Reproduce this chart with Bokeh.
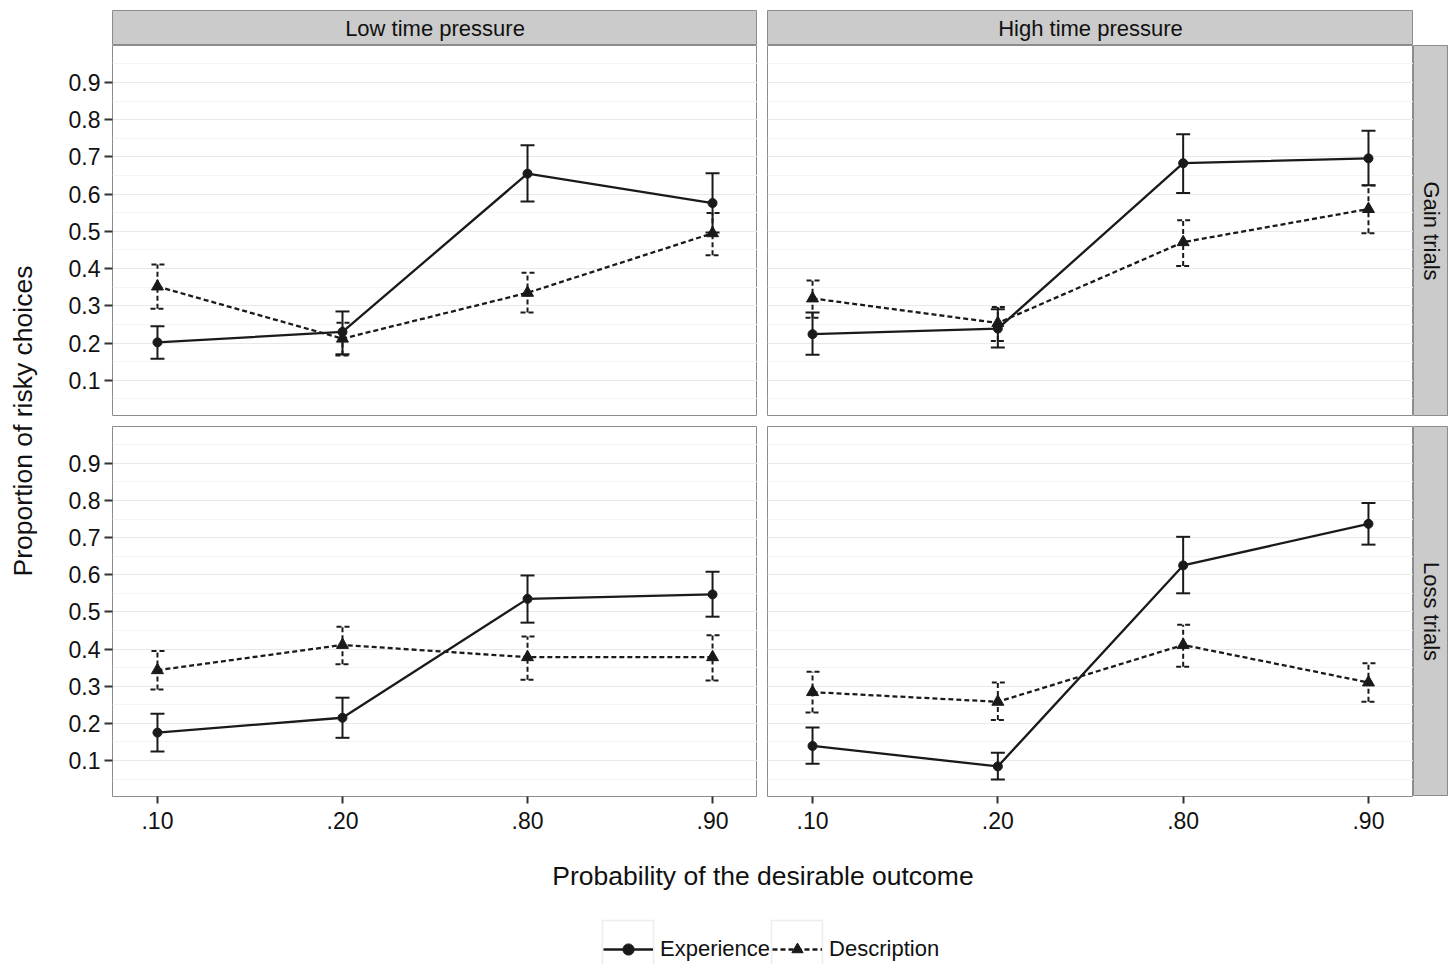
import math
from bokeh.plotting import figure
from bokeh.models import (Range1d, FixedTicker, Grid, Whisker, TeeHead, ColumnDataSource,
                          Label, Spacer, Legend, LegendItem, BoxAnnotation)
from bokeh.layouts import row, column
from bokeh.embed import file_html
from bokeh.resources import INLINE

# ---------------- data ----------------
probs = [".10", ".20", ".80", ".90"]
columns_lbl = ["Low time pressure", "High time pressure"]
rows_lbl = ["Gain trials", "Loss trials"]
series_lbl = ["Experience", "Description"]
y_ticks = [0.1, 0.2, 0.3, 0.4, 0.5, 0.6, 0.7, 0.8, 0.9]
y_minor = [0.05, 0.15, 0.25, 0.35, 0.45, 0.55, 0.65, 0.75, 0.85, 0.95]

low_gain_exp = [0.202, 0.230, 0.655, 0.576]
low_gain_exp_lo = [0.158, 0.170, 0.580, 0.497]
low_gain_exp_hi = [0.245, 0.285, 0.731, 0.656]
low_gain_desc = [0.352, 0.212, 0.335, 0.495]
low_gain_desc_lo = [0.292, 0.167, 0.282, 0.436]
low_gain_desc_hi = [0.411, 0.255, 0.389, 0.549]

high_gain_exp = [0.224, 0.239, 0.683, 0.696]
high_gain_exp_lo = [0.169, 0.188, 0.603, 0.624]
high_gain_exp_hi = [0.282, 0.291, 0.761, 0.770]
high_gain_desc = [0.320, 0.254, 0.471, 0.560]
high_gain_desc_lo = [0.268, 0.206, 0.407, 0.495]
high_gain_desc_hi = [0.368, 0.297, 0.530, 0.623]

low_loss_exp = [0.175, 0.215, 0.535, 0.547]
low_loss_exp_lo = [0.124, 0.161, 0.471, 0.487]
low_loss_exp_hi = [0.226, 0.269, 0.598, 0.608]
low_loss_desc = [0.343, 0.411, 0.378, 0.378]
low_loss_desc_lo = [0.291, 0.359, 0.317, 0.315]
low_loss_desc_hi = [0.395, 0.460, 0.434, 0.437]

high_loss_exp = [0.139, 0.084, 0.625, 0.737]
high_loss_exp_lo = [0.091, 0.049, 0.550, 0.681]
high_loss_exp_hi = [0.189, 0.121, 0.702, 0.793]
high_loss_desc = [0.284, 0.258, 0.411, 0.310]
high_loss_desc_lo = [0.229, 0.209, 0.352, 0.258]
high_loss_desc_hi = [0.339, 0.310, 0.465, 0.362]

# ---------------- style ----------------
FONT = "Liberation Sans"
INK = "#1a1a1a"
TXT = "#111111"
Y0, Y1 = 0.003, 0.999
X0, X1 = 0.757, 4.243
xs = [i + 1 for i in range(len(probs))]
BORDER = "#8c8c8c"
STRIP = "#cbcbcb"
PAD = 8
LW = 2.3
DASH = "5 3"


def panel(width, height, left_axis, bottom_axis, mb_left, mb_bottom,
          exp, exp_lo, exp_hi, desc, desc_lo, desc_hi):
    p = figure(width=width, height=height, x_range=Range1d(X0, X1), y_range=Range1d(Y0, Y1),
               output_backend="svg", toolbar_location=None,
               x_axis_location="below" if bottom_axis else None,
               y_axis_location="left" if left_axis else None,
               min_border_left=mb_left, min_border_right=0, min_border_top=0,
               min_border_bottom=mb_bottom)
    p.background_fill_color = "white"
    p.border_fill_color = "white"
    p.outline_line_color = BORDER
    p.outline_line_width = 1
    p.xgrid.visible = False
    p.ygrid.visible = False
    p.add_layout(Grid(dimension=1, ticker=FixedTicker(ticks=y_ticks, minor_ticks=y_minor),
                      grid_line_color="#e9e9e9", grid_line_width=1,
                      minor_grid_line_color="#f4f4f4", minor_grid_line_width=1))
    if left_axis:
        ax = p.yaxis[0]
        ax.ticker = FixedTicker(ticks=y_ticks)
        ax.major_label_overrides = {t: f"{t:.1f}" for t in y_ticks}
        ax.axis_line_color = None
        ax.major_tick_in = 0
        ax.major_tick_out = 8
        ax.major_tick_line_color = "#333333"
        ax.major_tick_line_width = 2
        ax.minor_tick_line_color = None
        ax.major_label_standoff = 4
        ax.major_label_text_font = FONT
        ax.major_label_text_font_size = "23px"
        ax.major_label_text_color = TXT
    if bottom_axis:
        ax = p.xaxis[0]
        ax.ticker = FixedTicker(ticks=xs)
        ax.major_label_overrides = {x: lab for x, lab in zip(xs, probs)}
        ax.axis_line_color = None
        ax.major_tick_in = 0
        ax.major_tick_out = 7
        ax.major_tick_line_color = "#333333"
        ax.major_tick_line_width = 2
        ax.minor_tick_line_color = None
        ax.major_label_standoff = 8
        ax.major_label_text_font = FONT
        ax.major_label_text_font_size = "23px"
        ax.major_label_text_color = TXT

    for vals, lo, hi, dash, marker, msize in (
            (exp, exp_lo, exp_hi, "solid", "circle", 9),
            (desc, desc_lo, desc_hi, DASH, "triangle", 12)):
        src = ColumnDataSource(dict(x=xs, y=vals, lo=lo, hi=hi))
        p.add_layout(Whisker(source=src, base="x", lower="lo", upper="hi", dimension="height",
                             line_color=INK, line_width=2, line_dash=dash, level="glyph",
                             lower_head=TeeHead(size=14, line_color=INK, line_width=2, line_dash=dash),
                             upper_head=TeeHead(size=14, line_color=INK, line_width=2, line_dash=dash)))
        p.line("x", "y", source=src, line_color=INK, line_width=LW, line_dash=dash)
        p.scatter("x", "y", source=src, marker=marker, size=msize, fill_color=INK, line_color=INK)
    return p


def strip(width, height, text, vertical=False):
    s = figure(width=width, height=height, x_range=Range1d(0, 1), y_range=Range1d(0, 1),
               output_backend="svg", toolbar_location=None, x_axis_location=None,
               y_axis_location=None, min_border=0)
    s.xgrid.visible = False
    s.ygrid.visible = False
    s.background_fill_color = STRIP
    s.border_fill_color = STRIP
    s.outline_line_color = BORDER
    s.add_layout(Label(x=0.5, y=0.5, text=text, text_align="center", text_baseline="middle",
                       angle=-math.pi / 2 if vertical else 0, text_font=FONT,
                       text_font_size="22px", text_color=TXT))
    return s


W_YLAB = 44
W_LEFT = 60
FW_L, FW_R = 645, 646
FH_T, FH_B = 371, 370
MB_B = 50
W_STRIP = 35

tl = panel(W_LEFT + FW_L, FH_T, True, False, W_LEFT, 0,
           low_gain_exp, low_gain_exp_lo, low_gain_exp_hi, low_gain_desc, low_gain_desc_lo, low_gain_desc_hi)
tr = panel(10 + FW_R, FH_T, False, False, 10, 0,
           high_gain_exp, high_gain_exp_lo, high_gain_exp_hi, high_gain_desc, high_gain_desc_lo, high_gain_desc_hi)
bl = panel(W_LEFT + FW_L, FH_B + MB_B, True, True, W_LEFT, MB_B,
           low_loss_exp, low_loss_exp_lo, low_loss_exp_hi, low_loss_desc, low_loss_desc_lo, low_loss_desc_hi)
br = panel(10 + FW_R, FH_B + MB_B, False, True, 10, MB_B,
           high_loss_exp, high_loss_exp_lo, high_loss_exp_hi, high_loss_desc, high_loss_desc_lo, high_loss_desc_hi)

st_l = strip(FW_L, 35, columns_lbl[0])
st_r = strip(FW_R, 35, columns_lbl[1])
rs_t = strip(W_STRIP, FH_T, rows_lbl[0], vertical=True)
rs_b = strip(W_STRIP, FH_B, rows_lbl[1], vertical=True)

inner = column(
    row(Spacer(width=W_LEFT, height=35), st_l, Spacer(width=10, height=35), st_r),
    row(tl, tr, rs_t),
    Spacer(width=10, height=10),
    row(bl, br, column(rs_b, Spacer(width=W_STRIP, height=MB_B))),
)
H_IN = 35 + FH_T + 10 + FH_B + MB_B
TOTAL_W = W_YLAB + W_LEFT + FW_L + 10 + FW_R + W_STRIP


def blank(width, height):
    f = figure(width=width, height=height, x_range=Range1d(0, width), y_range=Range1d(0, height),
               output_backend="svg", toolbar_location=None, x_axis_location=None,
               y_axis_location=None, min_border=0)
    f.xgrid.visible = False
    f.ygrid.visible = False
    f.outline_line_color = None
    return f


ylab = blank(W_YLAB, H_IN)
ylab.add_layout(Label(x=14, y=H_IN - 410.5, text="Proportion of risky choices", angle=math.pi / 2,
                      text_align="center", text_baseline="middle", text_font=FONT,
                      text_font_size="26.5px", text_color=TXT))

xlab = blank(TOTAL_W, 60)
xlab.add_layout(Label(x=754.5, y=31, text="Probability of the desirable outcome",
                      text_align="center", text_baseline="middle", text_font=FONT,
                      text_font_size="26.5px", text_color=TXT))

LEG_H = 58
leg = blank(TOTAL_W, LEG_H)
# legend key frames (ggplot-style key boxes, cut off at the page bottom)
KEY_X = [594, 763]
for kx in KEY_X:
    leg.add_layout(BoxAnnotation(left=kx, right=kx + 51, top=LEG_H - 14, bottom=-10,
                                 fill_alpha=0, line_color="#c4c4c4", line_width=1.5))
OFF = [-100, -90]
r1 = leg.line(x=OFF, y=OFF, line_color=INK, line_width=LW)
r2 = leg.scatter(x=OFF, y=OFF, marker="circle", size=9, fill_color=INK, line_color=INK)
r3 = leg.line(x=OFF, y=OFF, line_color=INK, line_width=LW, line_dash=DASH)
r4 = leg.scatter(x=OFF, y=OFF, marker="triangle", size=12, fill_color=INK, line_color=INK)
legend = Legend(items=[LegendItem(label=series_lbl[0], renderers=[r1, r2]),
                       LegendItem(label=series_lbl[1], renderers=[r3, r4])],
                orientation="horizontal", location=(595, 1), glyph_width=50, glyph_height=28,
                label_standoff=7, spacing=2, padding=0, margin=0,
                label_text_font=FONT, label_text_font_size="22px", label_text_color=TXT,
                border_line_color=None, background_fill_alpha=0)
leg.add_layout(legend)

page = row(Spacer(width=PAD, height=10),
           column(Spacer(width=10, height=PAD + 2), row(ylab, inner), xlab, leg))

open("out.html", "w").write(file_html(page, INLINE))
